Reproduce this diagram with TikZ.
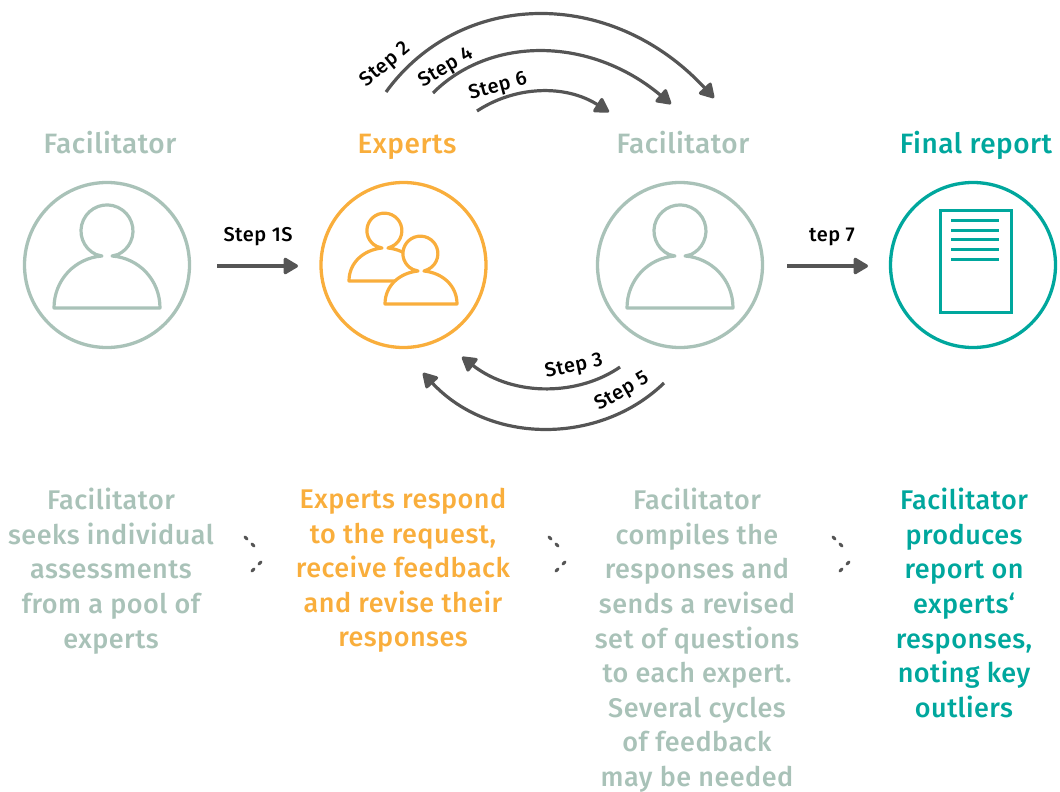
\documentclass[tikz,border=0pt]{standalone}
\usepackage{fontspec}
\setmainfont{Fira Sans Medium}
\newfontface\bodyfont[LetterSpace=1.8]{Fira Sans Medium}
\newfontface\stepfont[LetterSpace=2.5]{Fira Sans Medium}
\usetikzlibrary{arrows.meta}
\definecolor{sage}{HTML}{A9C2B8}
\definecolor{amber}{HTML}{F9AE3C}
\definecolor{teal2}{HTML}{00A79D}
\definecolor{ink}{HTML}{555555}
\tikzset{
  x=1pt,y=-1pt,
  ring/.style={circle,draw=#1,line width=3.3pt,minimum size=165pt,inner sep=0pt},
  title/.style={text=#1,font=\fontsize{28}{30}\bodyfont,anchor=base},
  desc/.style={text=#1,font=\fontsize{27}{34.6}\bodyfont,align=center,anchor=north,inner sep=0pt},
  steplabel/.style={text=black,font=\fontsize{20}{22}\stepfont},
  flow/.style={draw=ink,line width=3.2pt,-{Triangle[length=16pt,width=18pt,round]}},
  icon/.style={line width=3.2pt,line join=round,line cap=round},
  dotmark/.style={draw=ink,line width=3pt,line cap=round},
  person/.pic={
    \draw[icon,pic actions] (-53,42) .. controls (-53,14) and (-32,-8) .. (-5,-10)
      -- (-11,-11.5) arc[start angle=115,end angle=425,radius=26]
      -- (5,-10) .. controls (32,-8) and (53,14) .. (53,42) -- cycle;
  },
  smallperson/.pic={
    \draw[icon,pic actions] (-36,24) .. controls (-36,6) and (-22,-7) .. (-3,-9)
      -- (-8,-10.5) arc[start angle=115,end angle=425,radius=17.5]
      -- (3,-9) .. controls (22,-7) and (36,6) .. (36,24) -- cycle;
  },
  dotpair/.pic={
    \draw[dotmark] (-2,-2) -- (0,0);
    \draw[dotmark] (5,5) -- (7,7);
    \draw[dotmark] (14,23) -- (12,25);
    \draw[dotmark] (7,30) -- (5,32);
  }
}
\begin{document}
\begin{tikzpicture}
\useasboundingbox (0,0) rectangle (1060,792);

\node[ring=sage] (ringA) at (107,265) {};
\node[ring=amber] (ringB) at (403.5,265) {};
\node[ring=sage] (ringC) at (680,265) {};
\node[ring=teal2] (ringD) at (973,265) {};

\node[title=sage] (titleA) at (110,153) {Facilitator};
\node[title=amber] (titleB) at (407,153) {Experts};
\node[title=sage] (titleC) at (683,153) {Facilitator};
\node[title=teal2] (titleD) at (976,153) {Final report};

\pic[draw=sage] at (107,266) {person};
\pic[draw=sage] at (680,266) {person};
\pic[draw=amber] at (385,257) {smallperson};
\pic[draw=amber,fill=white] at (421,280) {smallperson};

\node[draw=teal2,line width=3pt,minimum width=71pt,minimum height=102pt,inner sep=0pt] (doc) at (975.5,261) {};
\foreach \yy in {220,230,239,249,259}
  \draw[draw=teal2,line width=3pt] (951,\yy) -- (999,\yy);

\coordinate (s1a) at (217,266);
\coordinate (s1b) at (298,266);
\coordinate (s7a) at (787,266);
\coordinate (s7b) at (868,266);
\coordinate (s2a) at (386,92);
\coordinate (s2b) at (714,98);
\coordinate (s4a) at (433,93);
\coordinate (s4b) at (671,104);
\coordinate (s6a) at (477,111);
\coordinate (s6b) at (609,112);
\coordinate (s3a) at (620,367);
\coordinate (s3b) at (462,357);
\coordinate (s5a) at (664,383);
\coordinate (s5b) at (423,373);

\draw[flow] (s1a) -- (s1b);
\draw[flow] (s7a) -- (s7b);
\draw[flow] (s2a) .. controls (460,-10) and (610,-14) .. (s2b);
\draw[flow] (s4a) .. controls (490,36) and (590,36) .. (s4b);
\draw[flow] (s6a) .. controls (515,86) and (565,84) .. (s6b);
\draw[flow] (s3a) .. controls (580,395) and (515,398) .. (s3b);
\draw[flow] (s5a) .. controls (600,445) and (490,445) .. (s5b);

\node[steplabel,rotate=40] (l2) at (386,65) {Step 2};
\node[steplabel,rotate=30] (l4) at (446,68) {Step 4};
\node[steplabel,rotate=15] (l6) at (498,87) {Step 6};
\node[steplabel,rotate=12] (l3) at (574,367) {Step 3};
\node[steplabel,rotate=30] (l5) at (622,392) {Step 5};
\node[steplabel] (l1) at (258,237) {Step 1S};
\node[steplabel] (l7) at (832,237) {tep 7};

\node[desc=sage] (dA) at (111,488) {Facilitator\\seeks individual\\assessments\\from a pool of\\experts};
\node[desc=amber] (dB) at (403,488) {Experts respond\\to the request,\\receive feedback\\and revise their\\responses};
\node[desc=sage] (dC) at (697,488) {Facilitator\\compiles the\\responses and\\sends a revised\\set of questions\\to each expert.\\Several cycles\\of feedback\\may be needed};
\node[desc=teal2] (dD) at (964,488) {Facilitator\\produces\\report on\\experts‘\\responses,\\noting key\\outliers};

\pic at (247,539) {dotpair};
\pic at (551,539) {dotpair};
\pic at (835,539) {dotpair};
\end{tikzpicture}
\end{document}
